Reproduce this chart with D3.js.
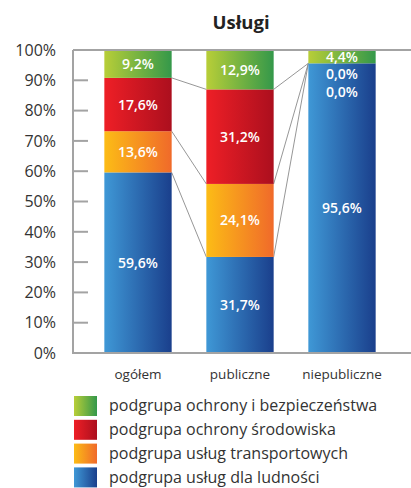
<!DOCTYPE html>
<html><head><meta charset="utf-8">
<script src="https://cdn.jsdelivr.net/npm/d3@7"></script>
<style>body{margin:0;background:#fff}svg{display:block}text{font-family:"Open Sans",sans-serif}</style>
</head><body><svg id="c" width="411" height="488"></svg>
<script>
const categories = ["ogółem", "publiczne", "niepubliczne"];
const seriesNames = ["podgrupa usług dla ludności", "podgrupa usług transportowych", "podgrupa ochrony środowiska", "podgrupa ochrony i bezpieczeństwa"];
const ludnosci = [59.6, 31.7, 95.6];
const transportowych = [13.6, 24.1, 0.0];
const srodowiska = [17.6, 31.2, 0.0];
const bezpieczenstwa = [9.2, 12.9, 4.4];
const yTicks = [0,10,20,30,40,50,60,70,80,90,100];
const title = "Usługi";

const series = [ludnosci, transportowych, srodowiska, bezpieczenstwa];
const grads = [["#3f98d6","#1a3f8c"],["#fcbc16","#f06a2a"],["#ee1f26","#ac0f1e"],["#b8ce38","#34984a"]];

const svg = d3.select("#c");
const defs = svg.append("defs");
grads.forEach((g,i)=>{
  const lg = defs.append("linearGradient").attr("id","g"+i).attr("x1","0").attr("x2","1").attr("y1","0").attr("y2","0");
  lg.append("stop").attr("offset","0").attr("stop-color",g[0]);
  lg.append("stop").attr("offset","1").attr("stop-color",g[1]);
});

const x = d3.scaleBand().domain(categories).range([87,393]).paddingInner(0.34).paddingOuter(0.17);
const y = d3.scaleLinear().domain([0,100]).range([353,50]);

const fmt = v => d3.format(".1f")(v).replace(".", ",") + "%";

const rows = categories.map((c,ci)=>{const o={cat:c}; series.forEach((s,si)=>o["s"+si]=s[ci]); return o;});
const stack = d3.stack().keys(series.map((s,i)=>"s"+i))(rows);

// connector lines
const lineG = svg.append("g");
stack.forEach(layer=>{
  for(let i=0;i<categories.length-1;i++){
    lineG.append("line")
      .attr("x1", x(categories[i])+x.bandwidth()).attr("y1", y(layer[i][1]))
      .attr("x2", x(categories[i+1])).attr("y2", y(layer[i+1][1]))
      .attr("stroke","#8a8a8a").attr("stroke-width",0.9);
  }
});

// bars
stack.forEach((layer,li)=>{
  svg.append("g").selectAll("rect").data(layer).join("rect")
    .attr("x", d=>x(d.data.cat)).attr("width", x.bandwidth())
    .attr("y", d=>y(d[1])).attr("height", d=>y(d[0])-y(d[1]))
    .attr("fill","url(#g"+li+")");
});

// labels with collision push-down from top
categories.forEach((c,ci)=>{
  let prev = -Infinity;
  for(let li=stack.length-1; li>=0; li--){
    const d = stack[li][ci];
    let cy = (y(d[0])+y(d[1]))/2;
    if(cy < prev+17.5) cy = prev+17.5;
    prev = cy;
    svg.append("text").attr("x", x(c)+x.bandwidth()/2).attr("y", cy).attr("dy","0.36em")
      .attr("text-anchor","middle").attr("fill","#fff").attr("font-size",14).attr("font-weight",600)
      .text(fmt(series[li][ci]));
  }
});

// axis
const ax = svg.append("g");
ax.append("line").attr("x1",73).attr("x2",73).attr("y1",y(100)).attr("y2",y(0)).attr("stroke","#a3a3a3").attr("stroke-width",2);
ax.append("line").attr("x1",73).attr("x2",411).attr("y1",y(100)).attr("y2",y(100)).attr("stroke","#a3a3a3").attr("stroke-width",2);
ax.append("line").attr("x1",72).attr("x2",411).attr("y1",y(0)).attr("y2",y(0)).attr("stroke","#a3a3a3").attr("stroke-width",2);
yTicks.forEach(t=>{
  if(t>0 && t<100) ax.append("line").attr("x1",73).attr("x2",88).attr("y1",y(t)).attr("y2",y(t)).attr("stroke","#a3a3a3").attr("stroke-width",2);
  ax.append("text").attr("x",56).attr("y",y(t)).attr("dy","0.36em").attr("text-anchor","end")
    .attr("font-size",16).attr("fill","#333").text(t+"%");
});
categories.forEach(c=>{
  svg.append("text").attr("x",x(c)+x.bandwidth()/2).attr("y",379).attr("text-anchor","middle")
    .attr("font-size",13.5).attr("fill","#333").text(c);
});

svg.append("text").attr("x",241).attr("y",29).attr("text-anchor","middle").attr("font-size",18.5)
  .attr("font-weight","bold").attr("fill","#222").text(title);

// legend (reverse order)
const legOrder = [3,2,1,0];
legOrder.forEach((si,i)=>{
  const yy = 396 + i*23.8;
  svg.append("rect").attr("x",74).attr("y",yy).attr("width",23).attr("height",20).attr("fill","url(#g"+si+")");
  svg.append("text").attr("x",109).attr("y",yy+9.5).attr("dy","0.36em").attr("font-size",16).attr("fill","#333").text(seriesNames[si]);
});
</script></body></html>
